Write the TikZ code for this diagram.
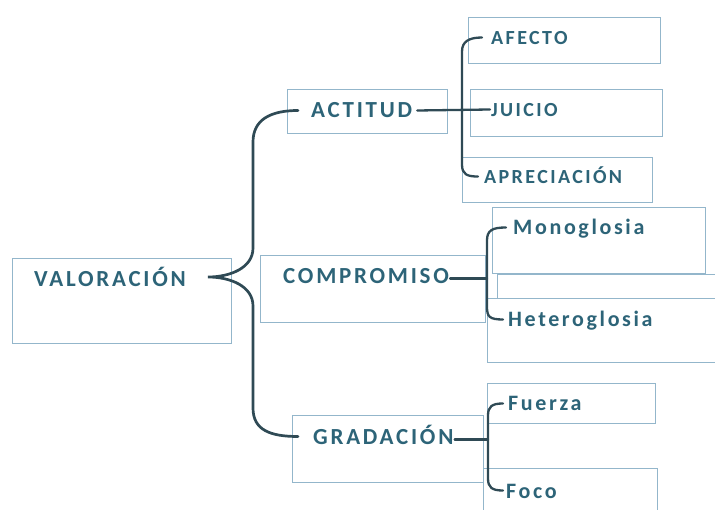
\documentclass[tikz,border=0pt]{standalone}
\usepackage{fontspec}
\setmainfont[LetterSpace=12]{Carlito}
\usetikzlibrary{calc}
\definecolor{linea}{HTML}{2F4A55}
\definecolor{texto}{HTML}{2D6478}
\definecolor{borde}{HTML}{93B6CB}

\begin{document}
\begin{tikzpicture}[x=1pt,y=-1pt,
  caja/.style={draw=borde,line width=1.4pt,anchor=north west,inner sep=0pt},
  txt/.style={anchor=base west,inner sep=1pt,text height=15pt,text depth=0pt,text=texto,font=\bfseries\fontsize{23}{27}\selectfont},
  sub/.style={txt,font=\bfseries\fontsize{20}{24}\selectfont},
  min/.style={txt,font=\bfseries\fontsize{22}{26}\selectfont},
  llave/.style={draw=linea,line width=2.7pt,line cap=round},
  rama/.style={draw=linea,line width=2.3pt,line cap=round}]
\useasboundingbox (0,0) rectangle (715,510);
\fill[white] (0,0) rectangle (715,510);
\clip (0,0) rectangle (715,510);

% cajas
\node[caja,minimum width=219pt,minimum height=85pt] (valC) at (12,258) {};
\node[caja,minimum width=160pt,minimum height=44pt] (actC) at (287,89) {};
\node[caja,minimum width=225pt,minimum height=67pt] (compC) at (260,255) {};
\node[caja,minimum width=191pt,minimum height=67pt] (gradC) at (292,415) {};
\node[caja,minimum width=192pt,minimum height=46pt] (afeC) at (468,17) {};
\node[caja,minimum width=192pt,minimum height=47pt] (juiC) at (470,89) {};
\node[caja,minimum width=190pt,minimum height=45pt] (aprC) at (462,157) {};
\node[caja,minimum width=213pt,minimum height=66pt] (monoC) at (492,207) {};
\node[caja,minimum width=230pt,minimum height=24pt] (vacC) at (497,274) {};
\node[caja,minimum width=240pt,minimum height=64pt] (hetC) at (487,298) {};
\node[caja,minimum width=168pt,minimum height=40pt] (fueC) at (487,383) {};
\node[caja,minimum width=174pt,minimum height=50pt] (focC) at (483,468) {};

% textos
\node[txt] (val) at (33,287) {VALORACIÓN};
\node[txt] (act) at (310,118) {ACTITUD};
\node[txt] (comp) at (282,284) {COMPROMISO};
\node[txt] (grad) at (312,444) {GRADACIÓN};
\node[sub] (afe) at (490,45) {AFECTO};
\node[sub] (jui) at (490,117) {JUICIO};
\node[sub] (apr) at (483,184) {APRECIACIÓN};
\node[min] (mono) at (512,235) {Monoglosia};
\node[min] (het) at (507,327) {Heteroglosia};
\node[min] (fue) at (507,411) {Fuerza};
\node[min] (foc) at (505,498) {Foco};

% llaves
\coordinate (pico) at (208,277);
\coordinate (e1) at (462,0);
\coordinate (e2) at (487,0);
\coordinate (e3) at (488,0);
\draw[llave] ($(act.west)+(-12,0)$) .. controls +(-28,0) and +(0,-22) .. (253,142)
  -- (253,248) .. controls +(0,20) and +(22,0) .. (pico)
  .. controls +(22,0) and +(0,-20) .. (253,306)
  -- (253,408) .. controls +(0,22) and +(-28,0) .. ($(grad.west)+(-14,0)$);
\draw[rama] ($(afe.west)+(-8,0)$) .. controls +(-13,0) and +(0,-10) .. ($(afe.west -| e1)+(0,14)$)
  -- ($(apr.west -| e1)+(0,-12)$) .. controls +(0,10) and +(-11,0) .. ($(apr.west)+(-5,0)$);
\draw[rama] ($(mono.west)+(-6,0)$) .. controls +(-14,0) and +(0,-10) .. ($(mono.west -| e2)+(0,13)$)
  -- ($(het.west -| e2)+(0,-13)$) .. controls +(0,10) and +(-14,0) .. ($(het.west)+(-4,0)$);
\draw[rama] ($(fue.west)+(-4,0)$) .. controls +(-11,0) and +(0,-9) .. ($(fue.west -| e3)+(0,12)$)
  -- ($(foc.west -| e3)+(0,-12)$) .. controls +(0,9) and +(-11,0) .. ($(foc.west)+(-2,0)$);
\draw[rama] ($(act.east)+(4,0)$) -- (jui.west);
\draw[rama] ($(comp.east)+(0,2)$) -- ($(comp.east -| e2)+(0,2)$);
\draw[rama] ($(grad.east)+(0,3)$) -- ($(grad.east -| e3)+(0,3)$);
\end{tikzpicture}
\end{document}
